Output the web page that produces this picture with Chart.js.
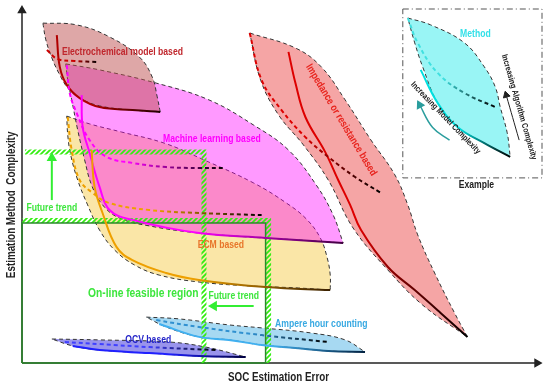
<!DOCTYPE html>
<html>
<head>
<meta charset="utf-8">
<script src="https://cdn.jsdelivr.net/npm/chart.js@4.4.0/dist/chart.umd.min.js"></script>
<style>
  html, body { margin: 0; padding: 0; background: #fff; }
  canvas { display: block; }
</style>
</head>
<body>
<canvas id="chart" width="550" height="386"></canvas>
<script>
// axis ranges (arbitrary units: x = SOC estimation error, y = method complexity)
const xMax = 105;
const yMax = 119;

// region outlines, each as two edges running from the first tip to the far tip
const echemUpper = [[4.2,113.3],[11,112.7],[17.6,108.7],[23.6,102],[26.2,95.3],[27.2,88.7],[27.8,83.7]];
const echemLower = [[4.2,113.3],[4.8,107.7],[6,101.7],[7.6,96],[9.2,91.7],[11.6,88.3],[15.6,85.7],[22.2,84.3],[27.8,83.7]];
const mlUpper = [[8.8,99.7],[15.6,97.7],[27,93.3],[37.6,87.7],[46.6,79.3],[53.6,71],[59.2,59.3],[62.6,49.3],[64.6,40]];
const mlLower = [[8.8,99.7],[9.2,94.3],[10,87.7],[11.2,77.7],[12.6,67.7],[14,59.3],[16.2,52.7],[19.6,48.3],[25.6,45.7],[35.6,43.3],[45.6,42],[55.6,41],[64.6,40]];
const ecmUpper = [[9,82.3],[13.6,79.7],[20,77],[28.6,73.3],[36.6,67.7],[46.6,60],[53.2,53.3],[57.2,48],[60,41.7],[61.4,35],[62,29.3],[62,24.3]];
const ecmLower = [[9,82.3],[9.2,76],[9.8,69.3],[11.2,61],[13.2,52.7],[15.6,44.3],[18.6,37.7],[22.6,32.7],[27.6,29.3],[35.6,27],[45.6,25.7],[55.6,25],[62,24.3]];
const impUpper = [[45.8,110],[55,105],[60.2,98.7],[65,87.7],[70.2,74.3],[75,62.7],[77.6,52.7],[79.6,42.7],[83,30],[87,16.7],[89.6,8.7]];
const impLower = [[45.8,110],[48,94.3],[51.6,82.7],[56.6,72.7],[61.6,61],[66.6,45],[73.6,31],[80.6,19.3],[89.6,8.7]];
const ahUpper = [[25,15.3],[31.6,14.7],[41.6,12.7],[48.2,11.7],[58.2,10],[65,7.7],[69,3.7]];
const ahLower = [[25,15.3],[29,12],[35.6,8.7],[41.6,7.7],[48.2,6],[55,5],[61.6,4],[69,3.7]];
const ocvUpper = [[6,8],[15.6,7.7],[29.6,7],[37,5.3],[45,2]];
const ocvLower = [[6,8],[10.2,5.7],[15.6,4.3],[25.6,3.3],[35.6,2.3],[45,2]];
const exUpper = [[77.6,115],[82.2,112.7],[89,106.7],[93,98.7],[95.2,92],[96.2,85.3],[97.6,76.7],[98.2,68.7]];
const exLower = [[77.6,115],[79,106.7],[80.6,98.7],[83.6,86.7],[87.6,78.7],[93,73.3],[98.2,68.7]];

// model complexity (solid) and algorithm complexity (dashed) curves
const echemModel = [[7,109.3],[7.6,98.7],[9,92.7],[11.6,88.3],[15.6,85.3],[22.2,84.3],[27.8,83.7]];
const echemAlgo = [[5,104.3],[7.2,101.3],[10.6,100.7],[15.2,100.3]];
const mlModel = [[12,89.3],[12.2,78.7],[13.6,70],[15.6,58.7],[17.6,51],[22.2,47.7],[35.6,43.3],[49,41.7],[64.6,40]];
const mlAlgo = [[9,99.3],[9.6,90],[11,83.3],[13.6,74.3],[17,68.7],[22.2,66.7],[29,65.3],[35.6,65],[41,65]];
const ecmModel = [[14,71],[14.6,58.7],[16.2,50],[19,38.7],[22.2,34.3],[29,30],[35.6,27.7],[49,25.3],[62,24.3]];
const ecmAlgo = [[9.2,82],[10,71],[11.6,61],[14.2,56.7],[17.6,53.3],[25.6,51],[35.6,50],[48.2,49.3]];
const impModel = [[53.6,103.7],[55,93.3],[57,82],[61,70.3],[63.6,61],[66,52.7],[68.2,44.3],[73.6,32],[79,24.3],[84.2,16.7],[89.6,8.7]];
const impAlgo = [[45.8,110],[48.2,94.3],[52.2,84.3],[57,75.3],[61.6,68.7],[67,62],[72.2,56.7]];
const ahModel = [[27.6,13],[35.6,8.7],[41.6,7.7],[48.2,6],[55,5],[61.6,4],[69,3.7]];
const ahAlgo = [[27,14.3],[35.6,12],[48.2,9.3],[61.6,7]];
const ocvModel = [[10.2,5.7],[15.6,4.3],[25.6,3.3],[35.6,2.3],[45,2]];
const ocvAlgo = [[8.6,7],[15.6,6.3],[25.6,5.3],[39.2,4.3]];
const exModel = [[80.2,97.7],[83.6,86.7],[87.6,78.7],[93,73.3],[98.2,68.7]];
const exAlgo = [[77.6,115],[79.6,106.7],[83.6,96.7],[89,90],[95.2,85.3]];

// on-line feasible region, now and future
const feasibleNow = [[0,0],[0,46.7],[49,46.7],[49,0],[0,0]];
const feasibleNowEdge = [[0,47.5],[49.6,47.5],[49.6,0]];
const feasibleFuture = [[0.6,70.3],[36.6,70.3],[36.6,0]];
const trendUp = [[6,54.3],[6,68.3]];
const trendLeft = [[46.6,19],[38.6,19]];

// inset example
const exampleBox = [[76.6,118],[104.6,118],[104.6,61.7],[76.6,61.7],[76.6,118]];
const modelArrow = [[86,74.3],[82.6,78.5],[80,86]];
const algoArrow = [[100,74.3],[97.4,89.3]];

const xAxisLine = [[0,0],[103.6,0]];
const yAxisLine = [[0,0],[0,117.5]];

const FONT = "'Liberation Sans', Arial, sans-serif";
const NARROW = 0.82;

const xy = a => a.map(([x, y]) => ({x, y}));
const base = {pointRadius: 0, clip: false, fill: false};

// diagonal hatch used for the feasible-region borders
const hatch = (() => {
  const c = document.createElement('canvas');
  c.width = 5; c.height = 5;
  const g = c.getContext('2d');
  g.strokeStyle = '#33ee11';
  g.lineWidth = 1.8;
  g.beginPath();
  g.moveTo(0, 5); g.lineTo(5, 0);
  g.moveTo(-1, 1); g.lineTo(1, -1);
  g.moveTo(4, 6); g.lineTo(6, 4);
  g.stroke();
  return g.createPattern(c, 'repeat');
})();

function outline(upper, lower, areaColor) {
  return {...base, data: xy(upper.concat(lower.slice().reverse())), areaColor,
    borderColor: '#333', borderWidth: 1, borderDash: [4, 3], tension: 0.4};
}

// colour that fades to a dark tone along the curve
function fade(c0, c1) {
  return (context) => {
    const chart = context.chart;
    const {x, y} = chart.scales;
    const pts = context.dataset.data;
    if (!chart.chartArea || !x || !pts.length) return c0;
    const a = pts[0], b = pts[pts.length - 1];
    const g = chart.ctx.createLinearGradient(x.getPixelForValue(a.x), y.getPixelForValue(a.y),
      x.getPixelForValue(b.x), y.getPixelForValue(b.y));
    g.addColorStop(0, c0);
    g.addColorStop(0.55, c0);
    g.addColorStop(1, c1);
    return g;
  };
}

function curve(points, c0, c1, dashed) {
  return {...base, data: xy(points), borderColor: fade(c0, c1), borderWidth: 2,
    borderDash: dashed ? [4, 3] : [], tension: 0.4};
}

function plain(points, color, width, dash) {
  return {...base, data: xy(points), borderColor: color, borderWidth: width, borderDash: dash || [], tension: 0};
}

function arrow(points, color, width, angle) {
  return {...base, data: xy(points), borderColor: color, borderWidth: width, tension: 0.4,
    pointStyle: 'triangle', rotation: angle, pointBackgroundColor: color, pointBorderColor: color,
    pointRadius: points.map((p, i) => i === points.length - 1 ? 4 : 0)};
}

const datasets = [
  arrow(xAxisLine, '#222', 1.5, 90), arrow(yAxisLine, '#222', 1.5, 0),
  outline(ecmUpper, ecmLower, 'rgba(245,205,80,0.5)'),
  outline(mlUpper, mlLower, 'rgba(255,0,255,0.4)'),
  outline(echemUpper, echemLower, 'rgba(190,80,80,0.5)'),
  outline(impUpper, impLower, 'rgba(235,75,75,0.5)'),
  outline(ahUpper, ahLower, 'rgba(80,180,230,0.5)'),
  outline(ocvUpper, ocvLower, 'rgba(70,60,220,0.55)'),
  outline(exUpper, exLower, 'rgba(0,230,230,0.4)'),
  plain(exampleBox, '#555', 1, [6, 3, 1, 3]),
  plain(feasibleNowEdge, hatch, 5),
  plain(feasibleNow, '#2a8a2a', 1.5),
  plain(feasibleFuture, hatch, 5),
  curve(echemModel, '#b00000', '#200000'), curve(echemAlgo, '#cc0000', '#000', true),
  curve(mlModel, '#ff00ff', '#400040'), curve(mlAlgo, '#ff00ff', '#000', true),
  curve(ecmModel, '#eea000', '#3a2000'), curve(ecmAlgo, '#eea000', '#000', true),
  curve(impModel, '#dd0000', '#000'), curve(impAlgo, '#dd0000', '#000', true),
  curve(ahModel, '#40b0f0', '#002040'), curve(ahAlgo, '#3090d0', '#000', true),
  curve(ocvModel, '#2020ff', '#000040'), curve(ocvAlgo, '#4040ff', '#000', true),
  curve(exModel, '#00e0e0', '#000'), curve(exAlgo, '#40e0e0', '#000', true),
  arrow(trendUp, '#33ee33', 2, 0), arrow(trendLeft, '#33ee33', 2, -90),
  arrow(modelArrow, '#2a9d9d', 1.5, -28), arrow(algoArrow, '#222', 1, -16)
];
// first in list is drawn first
datasets.forEach((d, i) => { d.order = datasets.length - i; });

const notes = [
  ['Electrochemical model based', 20.2, 103.7, '#c0272d', 10.5, 0],
  ['Machine learning based', 38.2, 74.7, '#ff00ff', 10.5, 0],
  ['Impedance or resistance based', 64.2, 81, '#e8251f', 10.5, 59],
  ['ECM based', 40, 39.3, '#e8762b', 10.5, 0],
  ['On-line feasible region', 24.4, 23.3, '#3de63d', 12.5, 0],
  ['Future trend', 6, 51.7, '#3de63d', 10.5, 0],
  ['Future trend', 42.6, 22.3, '#3de63d', 10.5, 0],
  ['Ampere hour counting', 60.2, 13, '#38a9e2', 10.5, 0],
  ['OCV based', 25.4, 7.7, '#2626c9', 10.5, 0],
  ['Method', 91.2, 109.7, '#33e0e8', 10.5, 0],
  ['Increasing Model Complexity', 85.2, 81.7, '#222', 8.5, 46],
  ['Increasing Algorithm Complexity', 100, 85.3, '#222', 8.5, 74],
  ['Example', 91.4, 59.3, '#222', 10.5, 0],
  ['SOC Estimation Error', 51.6, -5, '#222', 12, 0],
  ['Estimation Method  Complexity', -2, 52.7, '#222', 12, -90]
];

// fill each closed outline using the line path Chart.js computed
const areaFill = {
  id: 'areaFill',
  beforeDatasetDraw(chart, args) {
    const ds = chart.data.datasets[args.index];
    if (!ds.areaColor) return;
    const line = args.meta.dataset;
    const ctx = chart.ctx;
    line.updateControlPoints(chart.chartArea, 'x');
    ctx.save();
    ctx.beginPath();
    line.path(ctx);
    ctx.closePath();
    ctx.fillStyle = ds.areaColor;
    ctx.fill();
    ctx.restore();
  }
};

const noteLabels = {
  id: 'noteLabels',
  afterDraw(chart) {
    const {ctx, scales: {x, y}} = chart;
    notes.forEach(([text, nx, ny, color, size, rot]) => {
      ctx.save();
      ctx.translate(x.getPixelForValue(nx), y.getPixelForValue(ny));
      ctx.rotate(rot * Math.PI / 180);
      ctx.scale(NARROW, 1);
      ctx.font = 'bold ' + size + 'px ' + FONT;
      ctx.fillStyle = color;
      ctx.textAlign = 'center';
      ctx.textBaseline = 'middle';
      ctx.fillText(text, 0, 0);
      ctx.restore();
    });
  }
};

new Chart(document.getElementById('chart'), {
  type: 'line',
  data: {datasets},
  options: {
    responsive: false,
    animation: false,
    layout: {padding: {left: 22, right: 3, top: 6, bottom: 23}},
    scales: {
      x: {type: 'linear', min: 0, max: xMax, display: false},
      y: {type: 'linear', min: 0, max: yMax, display: false}
    },
    plugins: {legend: {display: false}, tooltip: {enabled: false}}
  },
  plugins: [areaFill, noteLabels]
});
</script>
</body>
</html>
